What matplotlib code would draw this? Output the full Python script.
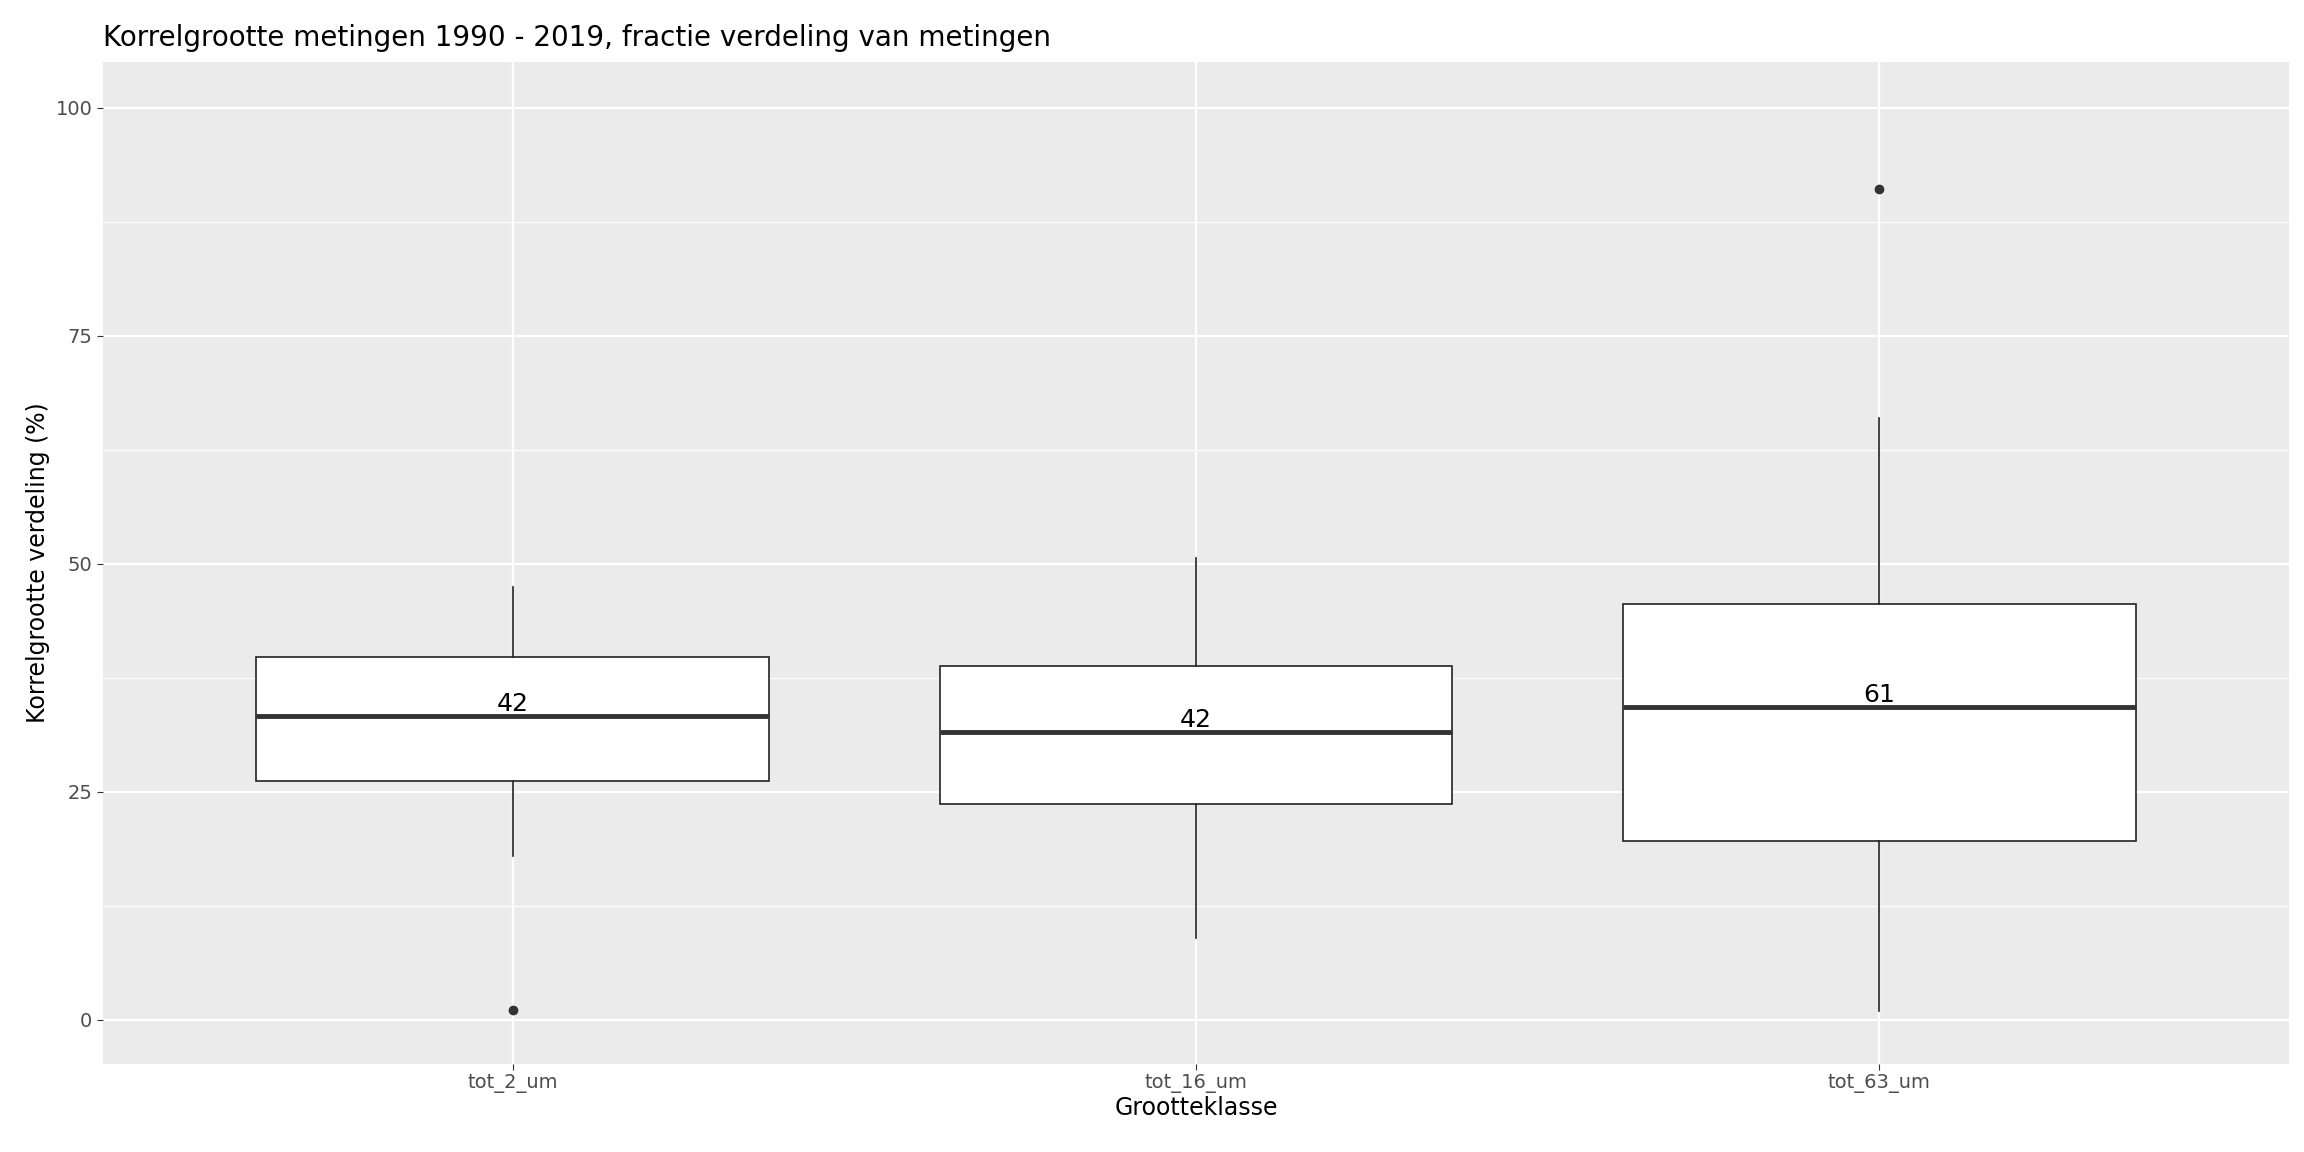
import matplotlib
matplotlib.use("Agg")
import matplotlib.pyplot as plt

categories = ["tot_2_um", "tot_16_um", "tot_63_um"]
q1 = [26.2, 23.7, 19.6]
med = [33.3, 31.6, 34.3]
q3 = [39.8, 38.8, 45.6]
whislo = [18.0, 9.0, 1.0]
whishi = [47.5, 50.6, 66.0]
fliers = [[1.1], [], [91.1]]
counts = ["42", "42", "61"]

fig = plt.figure(figsize=(23.04, 11.52), dpi=100)
ax = fig.add_axes([0.0446, 0.0765, 0.949, 0.8695])
ax.set_facecolor("#EBEBEB")
stats = [dict(q1=q1[i], med=med[i], q3=q3[i], whislo=whislo[i], whishi=whishi[i],
              fliers=fliers[i], label=categories[i]) for i in range(3)]
pos = [1, 2, 3]
for y in [12.5, 37.5, 62.5, 87.5]:
    ax.axhline(y, color="white", lw=0.8, zorder=0)
for y in [0, 25, 50, 75, 100]:
    ax.axhline(y, color="white", lw=1.6, zorder=0)
for x in pos:
    ax.axvline(x, color="white", lw=1.6, zorder=0)
ax.bxp(stats, positions=pos, widths=0.75, patch_artist=True, showcaps=False,
       boxprops=dict(facecolor="white", edgecolor="#222222", lw=1.2),
       medianprops=dict(color="#333333", lw=3.5),
       whiskerprops=dict(color="#222222", lw=1.2),
       flierprops=dict(marker="o", markerfacecolor="#333333", markeredgecolor="#333333", markersize=6),
       zorder=2)
for i in range(3):
    ax.text(pos[i], med[i] + 1.3, counts[i], ha="center", va="center", fontsize=18, zorder=3)
ax.set_xlim(0.4, 3.6)
ax.set_ylim(-4.83, 105)
ax.set_xticks(pos)
ax.set_xticklabels(categories)
ax.set_yticks([0, 25, 50, 75, 100])
ax.tick_params(labelsize=14, colors="#4D4D4D", length=4, color="#333333")
for s in ax.spines.values():
    s.set_visible(False)
ax.set_xlabel("Grootteklasse", fontsize=17, labelpad=2)
ax.set_ylabel("Korrelgrootte verdeling (%)", fontsize=17, labelpad=4)
ax.set_title("Korrelgrootte metingen 1990 - 2019, fractie verdeling van metingen",
             fontsize=20, loc="left", pad=12)
fig.savefig("out.png", dpi=100)
